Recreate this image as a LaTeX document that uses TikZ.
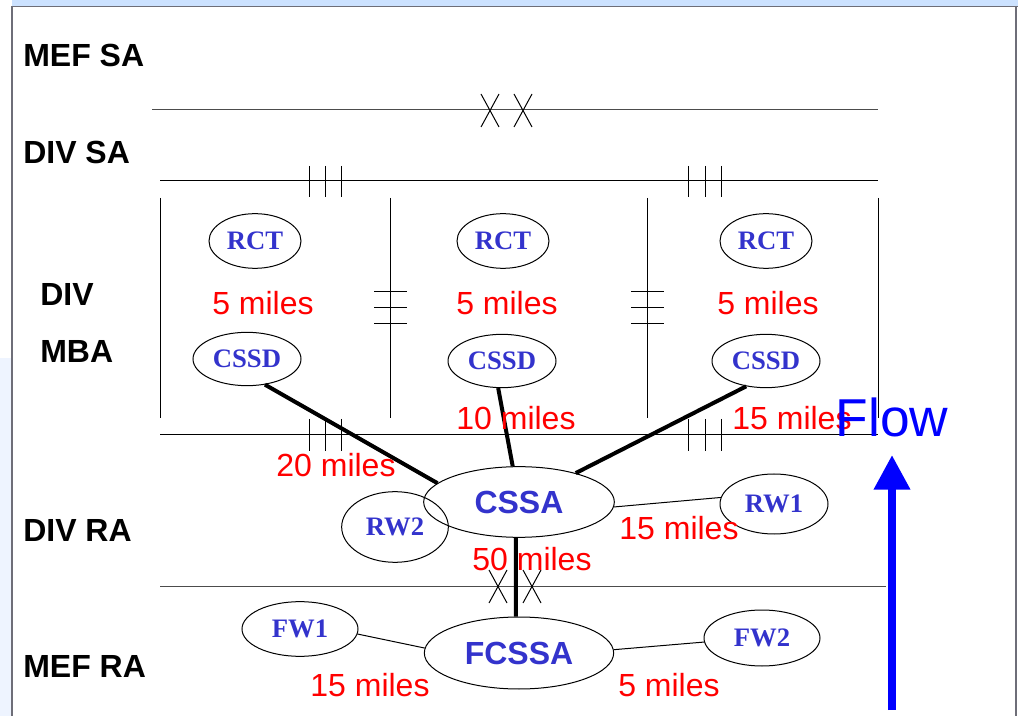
\documentclass[tikz,border=0pt]{standalone}
\usepackage{fontspec}
\setmainfont{Liberation Sans}
\newfontfamily\timesfont{Liberation Serif}
\definecolor{unitblue}{RGB}{51,51,204}
\definecolor{flowblue}{RGB}{0,0,255}
\definecolor{framesky}{RGB}{204,226,255}
\definecolor{framepale}{RGB}{238,244,255}
\definecolor{framegray}{RGB}{110,110,120}
\usetikzlibrary{arrows.meta, shapes.geometric}

\begin{document}
\begin{tikzpicture}[x=0.75pt, y=-0.75pt,
          echelon/.style={font=\fontsize{24}{24}\selectfont\bfseries, anchor=west, inner sep=0pt},
          site/.style={ellipse, draw, line width=0.75pt, inner sep=0pt, text=unitblue,
              font=\timesfont\fontsize{20}{20}\selectfont\bfseries},
          hub/.style={site, font=\fontsize{24}{24}\selectfont\bfseries},
          dist/.style={font=\fontsize{24}{24}\selectfont, text=red, inner sep=0pt},
          bound/.style={line width=0.75pt},
          link/.style={line width=0.75pt},
          trunk/.style={line width=3pt},
          flowarr/.style={-{Triangle[width=26pt, length=26pt]}, flowblue, line width=6pt}
        ]
        \useasboundingbox (0,0) rectangle (1018,716);
        % window frame
        \fill[framesky] (12,0) rectangle (1018,6);
        \fill[framepale] (0,358) rectangle (11,716);
        \draw[framegray, line width=1pt] (12,6.5) -- (1018,6.5);
        \draw[framegray, line width=1pt] (12,6.5) -- (12,716);
        \draw[framegray, line width=1pt] (1016,6.5) -- (1016,716);

        \node[echelon] (mefsa) at (23,55)  {MEF SA};
        \node[echelon] (divsa) at (23,152) {DIV SA};
        \node[echelon] (div)   at (40,294) {DIV};
        \node[echelon] (mba)   at (40,351) {MBA};
        \node[echelon] (divra) at (23,530) {DIV RA};
        \node[echelon] (mefra) at (23,666) {MEF RA};

        % boundaries
        \draw[bound, black!70] (152,110) -- (878,110);
        \draw[bound] (160,181) -- (878,181);
        \draw[bound] (160,435) -- (878,435);
        \draw[bound, black!70] (160,586) -- (886,586);
        \foreach \x in {160,390,647,878}
          \draw[bound] (\x,198) -- (\x,418);
        \foreach \x in {309,325,341,688,705,721} {
          \draw[bound] (\x,166) -- (\x,197);
          \draw[bound] (\x,419) -- (\x,451);
        }
        \foreach \x in {390,647}
          \foreach \y in {292,308,324}
            \draw[bound] (\x-16,\y) -- (\x+17,\y);
        \foreach \x/\ya/\yb in {490/94/127,523/94/127,498/570/603,532/570/603} {
          \draw[bound] (\x-9,\ya) -- (\x+9,\yb);
          \draw[bound] (\x-9,\yb) -- (\x+9,\ya);
        }

        \node[site, minimum width=69pt, minimum height=41pt] (rct1) at (255,241) {RCT};
        \node[site, minimum width=69pt, minimum height=41pt] (rct2) at (503,241) {RCT};
        \node[site, minimum width=69pt, minimum height=41pt] (rct3) at (766,241) {RCT};
        \node[site, minimum width=81pt, minimum height=40pt] (cssd1) at (247,359) {CSSD};
        \node[site, minimum width=81pt, minimum height=40pt] (cssd2) at (502,361) {CSSD};
        \node[site, minimum width=81pt, minimum height=40pt] (cssd3) at (766,361) {CSSD};
        \node[hub, minimum width=143pt, minimum height=53pt] (cssa) at (519,502) {CSSA};
        \node[site, minimum width=80pt, minimum height=53pt] (rw2) at (395,527) {RW2};
        \node[site, minimum width=81pt, minimum height=45pt] (rw1) at (774,504) {RW1};
        \node[hub, minimum width=142pt, minimum height=54pt] (fcssa) at (519,653) {FCSSA};
        \node[site, minimum width=87pt, minimum height=41pt] (fw1) at (300,629) {FW1};
        \node[site, minimum width=87pt, minimum height=42pt] (fw2) at (762,638) {FW2};

        \draw[trunk] (cssd1.-55)  -- (cssa.167);
        \draw[trunk] (cssd2.-98)  -- (cssa.100);
        \draw[trunk] (cssd3.-128) -- (cssa.27);
        \draw[trunk] (cssa.-95)   -- (fcssa.95);
        \draw[link]  (cssa.-3)    -- (rw1.173);
        \draw[link]  (fw1.-5)     -- (fcssa.177);
        \draw[link]  (fcssa.2)    -- (fw2.184);

        \node[dist] (d1)  at (263,303) {5 miles};
        \node[dist] (d2)  at (507,303) {5 miles};
        \node[dist] (d3)  at (768,303) {5 miles};
        \node[dist] (d4)  at (516,418) {10 miles};
        \node[dist] (d5)  at (792,418) {15 miles};
        \node[dist] (d6)  at (336,465) {20 miles};
        \node[dist] (d7)  at (679,528) {15 miles};
        \node[dist] (d8)  at (532,559) {50 miles};
        \node[dist] (d9)  at (370,685) {15 miles};
        \node[dist] (d10) at (669,685) {5 miles};

        \node[text=flowblue, font=\fontsize{40}{40}\selectfont, inner sep=0pt] (flow) at (892,417) {Flow};
        \coordinate (flowtail) at (892,710);
        \coordinate (flowtip)  at (892,455);
        \draw[flowarr] (flowtail) -- (flowtip);
      \end{tikzpicture}
\end{document}
